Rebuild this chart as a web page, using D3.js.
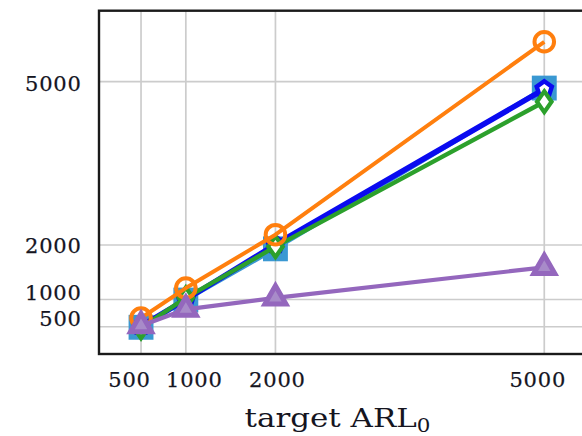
<!DOCTYPE html>
<html>
<head>
<meta charset="utf-8">
<script src="https://cdn.jsdelivr.net/npm/d3@7"></script>
<style>
  html, body { margin: 0; padding: 0; background: #fff; }
  svg { display: block; }
</style>
</head>
<body>
<script>
// target ARL0 values on the x axis
const targets = [500, 1000, 2000, 5000];
// tick labels
const xTicks = [500, 1000, 2000, 5000];
const yTicks = [500, 1000, 2000, 5000];
// achieved values for each method
const squareSeries   = [490, 990, 1930, 4880];
const pentagonSeries = [510, 1000, 2010, 4860];
const diamondSeries  = [480, 1030, 1970, 4630];
const circleSeries   = [660, 1210, 2190, 5730];
const triangleSeries = [520, 820, 1030, 1590];

const W = 582, H = 436;
const plotLeft = 99, plotTop = 10.7, plotRight = 586.3, plotBottom = 354;

const svg = d3.select("body").append("svg")
  .attr("width", W).attr("height", H)
  .attr("viewBox", `0 0 ${W} ${H}`);

const x = d3.scaleLinear().domain([31, 5469]).range([plotLeft, plotRight]);
const y = d3.scaleLinear().domain([0, 6300]).range([plotBottom, plotTop]);

// grid
const grid = svg.append("g").attr("stroke", "#cccccc").attr("stroke-width", 1.7);
grid.selectAll("line.v").data(xTicks).join("line")
  .attr("class", "v")
  .attr("x1", d => x(d)).attr("x2", d => x(d))
  .attr("y1", plotTop).attr("y2", plotBottom);
grid.selectAll("line.h").data(yTicks).join("line")
  .attr("class", "h")
  .attr("x1", plotLeft).attr("x2", plotRight)
  .attr("y1", d => y(d)).attr("y2", d => y(d));

// axes (labels only, the frame is drawn separately)
const font = "'DejaVu Serif', serif";
const xLabelNudge = {500: -12, 1000: 8, 2000: 1.5, 5000: -7};
const yLabelNudge = {500: -8.5, 1000: -7.5, 2000: 0, 5000: 1.8};

const xAxis = svg.append("g")
  .attr("transform", `translate(0,${plotBottom})`)
  .call(d3.axisBottom(x).tickValues(xTicks).tickSize(0).tickPadding(0).tickFormat(d3.format("d")));
xAxis.select(".domain").remove();
xAxis.selectAll("text")
  .attr("font-family", font).attr("font-size", 21).attr("fill", "#15151f")
  .attr("letter-spacing", 0.8)
  .attr("stroke", "#15151f").attr("stroke-width", 0.25)
  .attr("dy", null).attr("y", 32.7)
  .attr("x", d => xLabelNudge[d]);

const yAxis = svg.append("g")
  .attr("transform", `translate(${plotLeft},0)`)
  .call(d3.axisLeft(y).tickValues(yTicks).tickSize(0).tickPadding(0).tickFormat(d3.format("d")));
yAxis.select(".domain").remove();
yAxis.selectAll("text")
  .attr("font-family", font).attr("font-size", 21).attr("fill", "#15151f")
  .attr("letter-spacing", 0.8)
  .attr("stroke", "#15151f").attr("stroke-width", 0.25)
  .attr("x", -17.3)
  .attr("dy", "0.36em")
  .attr("y", d => yLabelNudge[d]);

// x axis title
const title = svg.append("text")
  .attr("x", 244.5).attr("y", 426.7)
  .attr("font-family", font).attr("font-size", 26).attr("fill", "#15151f")
  .attr("textLength", 186).attr("lengthAdjust", "spacingAndGlyphs");
title.append("tspan").text("target ARL");
title.append("tspan").attr("font-size", 18).attr("dy", 5).text("0");

// custom marker shapes
const pentagon = {
  draw(ctx, size) {
    const r = Math.sqrt(size / 2.378);
    for (let i = 0; i < 5; i++) {
      const a = -Math.PI / 2 + i * 2 * Math.PI / 5;
      const px = r * Math.cos(a), py = r * Math.sin(a);
      if (i === 0) ctx.moveTo(px, py); else ctx.lineTo(px, py);
    }
    ctx.closePath();
  }
};
const tallDiamond = {
  draw(ctx, size) {
    const w = Math.sqrt(size) * 0.42, h = Math.sqrt(size) * 0.6;
    ctx.moveTo(0, -h); ctx.lineTo(w, 0); ctx.lineTo(0, h); ctx.lineTo(-w, 0); ctx.closePath();
  }
};

const plot = svg.append("g");
const series = [
  {values: squareSeries,   color: "#3a98d2", lw: 4,   type: d3.symbolSquare,   size: 620, fill: "#3a98d2", sw: 0},
  {values: pentagonSeries, color: "#0a0af0", lw: 5.5, type: pentagon,          size: 150, fill: "#ffffff", sw: 4.5},
  {values: diamondSeries,  color: "#2ca02c", lw: 4.4, type: tallDiamond,       size: 300, fill: "#ffffff", sw: 4.2},
  {values: circleSeries,   color: "#ff7f0e", lw: 4,   type: d3.symbolCircle,   size: 300, fill: "none",    sw: 4},
  {values: triangleSeries, color: "#9467bd", lw: 4.2, type: d3.symbolTriangle, size: 190, fill: "#a88bc9", sw: 5}
];

const line = d3.line().x(d => x(d[0])).y(d => y(d[1]));

series.forEach(s => {
  const pts = targets.map((t, i) => [t, s.values[i]]);
  const g = plot.append("g");
  g.append("path").datum(pts)
    .attr("d", line).attr("fill", "none")
    .attr("stroke", s.color).attr("stroke-width", s.lw)
    .attr("stroke-linejoin", "round");
  g.selectAll("path.m").data(pts).join("path")
    .attr("class", "m")
    .attr("transform", d => `translate(${x(d[0])},${y(d[1])})`)
    .attr("d", d3.symbol().type(s.type).size(s.size)())
    .attr("fill", s.fill)
    .attr("stroke", s.sw ? s.color : "none")
    .attr("stroke-width", s.sw)
    .attr("stroke-linejoin", "miter");
});

// frame
svg.append("rect")
  .attr("x", plotLeft).attr("y", plotTop)
  .attr("width", plotRight - plotLeft).attr("height", plotBottom - plotTop)
  .attr("fill", "none").attr("stroke", "#1a1a1a").attr("stroke-width", 2.4);
</script>
</body>
</html>
